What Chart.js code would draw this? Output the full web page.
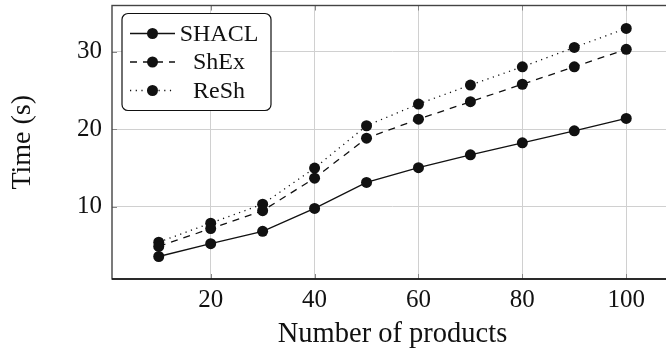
<!DOCTYPE html>
<html>
<head>
<meta charset="utf-8">
<script src="https://cdn.jsdelivr.net/npm/chart.js@4/dist/chart.umd.min.js"></script>
<style>
  html, body { margin: 0; padding: 0; background: #fff; overflow: hidden; }
  #wrap { width: 680px; height: 354px; }
</style>
</head>
<body>
<div id="wrap"><canvas id="timeChart" width="680" height="354"></canvas></div>
<script>
const products = [10, 20, 30, 40, 50, 60, 70, 80, 90, 100];
const shaclTimes = [3.6, 5.25, 6.85, 9.8, 13.15, 15.05, 16.7, 18.25, 19.8, 21.4];
const shexTimes = [4.9, 7.2, 9.5, 13.7, 18.85, 21.3, 23.55, 25.8, 28.05, 30.3];
const reshTimes = [5.45, 7.9, 10.35, 15.0, 20.45, 23.25, 25.7, 28.05, 30.55, 33.0];
const xTicks = [20, 40, 60, 80, 100];
const yTicks = [10, 20, 30];

const serif = "'Liberation Serif', 'Times New Roman', serif";
const ink = "#111";

function series(ys) {
  return products.map((p, i) => ({ x: p, y: ys[i] }));
}

function lineSet(label, ys, dash) {
  return {
    label: label,
    data: series(ys),
    borderColor: ink,
    borderWidth: 1.3,
    borderDash: dash,
    pointRadius: 5.5,
    pointBackgroundColor: ink,
    pointBorderWidth: 0,
    fill: false,
    tension: 0,
  };
}

function noEdgePadding(s) {
  s.paddingTop = 0;
  s.paddingBottom = 0;
  s.paddingLeft = 0;
  s.paddingRight = 0;
}

// box, inward ticks and pgfplots style legend
const framePlugin = {
  id: "frame",
  afterDraw(chart) {
    const ctx = chart.ctx;
    const a = chart.chartArea;
    const xs = chart.scales.x, ys = chart.scales.y;
    ctx.save();
    ctx.strokeStyle = "#888";
    ctx.lineWidth = 1;
    xTicks.forEach((t) => {
      const px = Math.round(xs.getPixelForValue(t)) + 0.5;
      ctx.beginPath();
      ctx.moveTo(px, a.bottom); ctx.lineTo(px, a.bottom - 5);
      ctx.moveTo(px, a.top); ctx.lineTo(px, a.top + 5);
      ctx.stroke();
    });
    yTicks.forEach((t) => {
      const py = Math.round(ys.getPixelForValue(t)) + 0.5;
      ctx.beginPath();
      ctx.moveTo(a.left, py); ctx.lineTo(a.left + 5, py);
      ctx.moveTo(a.right, py); ctx.lineTo(a.right - 5, py);
      ctx.stroke();
    });
    ctx.strokeStyle = "#444";
    ctx.lineWidth = 1.4;
    ctx.strokeRect(a.left, a.top, a.right - a.left, a.bottom - a.top);
    ctx.strokeStyle = ink;
    ctx.beginPath();
    ctx.moveTo(a.left, a.bottom); ctx.lineTo(a.right, a.bottom);
    ctx.stroke();

    // legend
    const bx = a.left + 10, by = a.top + 8, bw = 149, bh = 97;
    ctx.fillStyle = "#fff";
    ctx.strokeStyle = ink;
    ctx.lineWidth = 1.2;
    ctx.beginPath();
    ctx.roundRect(bx, by, bw, bh, 6);
    ctx.fill();
    ctx.stroke();
    ctx.font = "24px " + serif;
    ctx.textAlign = "center";
    ctx.textBaseline = "middle";
    chart.data.datasets.forEach((ds, i) => {
      const ry = by + 20 + i * 28.5;
      ctx.strokeStyle = ds.borderColor;
      ctx.lineWidth = ds.borderWidth;
      ctx.setLineDash(ds.borderDash || []);
      ctx.beginPath();
      ctx.moveTo(bx + 8, ry); ctx.lineTo(bx + 53, ry);
      ctx.stroke();
      ctx.setLineDash([]);
      ctx.fillStyle = ds.pointBackgroundColor;
      ctx.beginPath();
      ctx.arc(bx + 30.5, ry, ds.pointRadius, 0, Math.PI * 2);
      ctx.fill();
      ctx.fillStyle = ink;
      ctx.fillText(ds.label, bx + 97, ry + 1);
    });
    ctx.restore();
  }
};

new Chart(document.getElementById("timeChart").getContext("2d"), {
  type: "line",
  data: {
    datasets: [
      lineSet("SHACL", shaclTimes, []),
      lineSet("ShEx", shexTimes, [7, 6]),
      lineSet("ReSh", reshTimes, [1.2, 4.5]),
    ]
  },
  options: {
    responsive: false,
    animation: false,
    layout: { padding: { top: 5, right: 7, bottom: 0, left: 0 } },
    scales: {
      x: {
        type: "linear",
        min: 1,
        max: 109,
        afterBuildTicks: (s) => { s.ticks = xTicks.map((v) => ({ value: v })); },
        afterFit: (s) => { s.height = 75; noEdgePadding(s); },
        grid: { color: "#d0d0d0", lineWidth: 1, drawTicks: false },
        border: { display: false },
        ticks: { color: ink, padding: 6, font: { family: serif, size: 25 } },
        title: {
          display: true,
          text: "Number of products",
          color: ink,
          font: { family: serif, size: 28.5 },
          padding: { top: 4, bottom: 2 },
        },
      },
      y: {
        min: 0.7,
        max: 35.95,
        afterBuildTicks: (s) => { s.ticks = yTicks.map((v) => ({ value: v })); },
        afterFit: (s) => { s.width = 112; noEdgePadding(s); },
        grid: { color: "#d0d0d0", lineWidth: 1, drawTicks: false },
        border: { display: false },
        ticks: { color: ink, padding: 10, font: { family: serif, size: 25 } },
        title: {
          display: true,
          text: "Time (s)",
          color: ink,
          font: { family: serif, size: 28 },
          padding: { top: 6, bottom: 4 },
        },
      },
    },
    plugins: {
      legend: { display: false },
      tooltip: { enabled: false },
    },
  },
  plugins: [framePlugin],
});
</script>
</body>
</html>
